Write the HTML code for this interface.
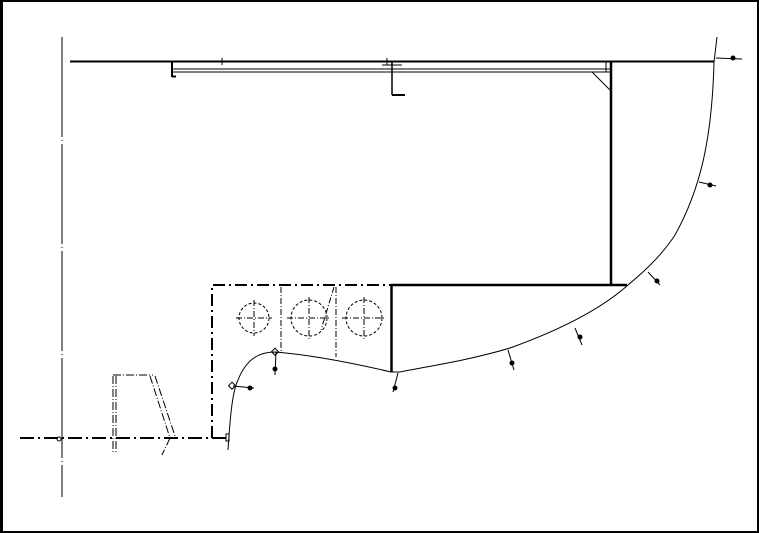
<!DOCTYPE html>
<html><head><meta charset="utf-8"><style>
html,body{margin:0;padding:0;background:#fff;}
svg{display:block;}
</style></head><body>
<svg width="759" height="533" viewBox="0 0 759 533" xmlns="http://www.w3.org/2000/svg">
<rect x="1" y="1" width="757" height="531" fill="none" stroke="#000" stroke-width="2"/>
<rect x="0" y="0" width="3" height="533" fill="#000"/>
<g fill="none" stroke="#000">
<!-- left vertical centerline -->
<line x1="62" y1="37" x2="62" y2="497" stroke-width="1" stroke-dasharray="100,3,1,3"/>
<!-- bottom dash-dot baseline -->
<line x1="20" y1="438" x2="228" y2="438" stroke-width="2" stroke-dasharray="14,4,2,4"/>
<!-- top horizontal -->
<line x1="70" y1="61.5" x2="714" y2="61.5" stroke-width="2"/>
<line x1="172" y1="69" x2="610" y2="69" stroke-width="1"/>
<line x1="172" y1="72" x2="610" y2="72" stroke-width="1"/>
<line x1="172" y1="62" x2="172" y2="77" stroke-width="2"/>
<line x1="172" y1="76.5" x2="176" y2="76.5" stroke-width="2"/>
<line x1="222" y1="58" x2="222" y2="65" stroke-width="1"/>
<line x1="387" y1="58" x2="387" y2="65" stroke-width="1"/>
<line x1="382" y1="65" x2="402" y2="65" stroke-width="1"/>
<line x1="392" y1="62" x2="392" y2="95" stroke-width="1.5"/>
<line x1="392" y1="95" x2="405" y2="95" stroke-width="2"/>
<line x1="606" y1="62" x2="606" y2="72" stroke-width="1"/>
<line x1="592" y1="72" x2="611" y2="91" stroke-width="1"/>
<!-- big vertical and horizontal -->
<line x1="611" y1="62" x2="611" y2="285" stroke-width="2.5"/>
<line x1="391" y1="285" x2="627" y2="285" stroke-width="2.5"/>
<line x1="391.5" y1="285" x2="391.5" y2="372" stroke-width="2.5"/>
<!-- hull curve -->
<path d="M717,37 L714,62 C712,140 700,190 675,235 C660,258 640,275 628,285 C600,310 560,330 510,348 C470,360 430,366 400,372" stroke-width="1"/>
<!-- lower left curve -->
<path d="M228,450 C230,420 232,392 238,380 C246,360 258,352 275,352 C300,354 340,360 391,372 L400,372" stroke-width="1"/>
<!-- dash-dot box -->
<path d="M212,438 L212,285 L391,285" stroke-width="2" stroke-dasharray="12,4,2,4"/>
<!-- circles -->
<g stroke-width="1" stroke-dasharray="3,2">
<circle cx="254" cy="318" r="15"/>
<circle cx="309" cy="318" r="18"/>
<circle cx="364" cy="318" r="18"/>
</g>
<g stroke-width="1" stroke-dasharray="6,2,1,2">
<line x1="236" y1="318" x2="272" y2="318"/><line x1="254" y1="300" x2="254" y2="336"/>
<line x1="287" y1="318" x2="331" y2="318"/><line x1="309" y1="297" x2="309" y2="339"/>
<line x1="342" y1="318" x2="386" y2="318"/><line x1="364" y1="297" x2="364" y2="339"/>
<line x1="281" y1="287" x2="281" y2="352"/>
<line x1="336" y1="287" x2="336" y2="357"/>
<line x1="334" y1="287" x2="321" y2="330"/>
</g>
<!-- small left frame -->
<g stroke-width="1" stroke-dasharray="8,2,1,2">
<line x1="113" y1="376" x2="113" y2="452"/>
<line x1="116" y1="376" x2="116" y2="452"/>
<line x1="113" y1="375" x2="153" y2="375"/>
<line x1="150" y1="376" x2="170" y2="438"/>
<line x1="155" y1="376" x2="175" y2="436"/>
<line x1="170" y1="438" x2="162" y2="455"/>
</g>
<!-- normals with dots -->
<g stroke-width="1">
<line x1="716" y1="58" x2="742" y2="59"/>
<line x1="699" y1="182" x2="716" y2="186"/>
<line x1="648" y1="272" x2="660" y2="285"/>
<line x1="575" y1="328" x2="582" y2="345"/>
<line x1="508" y1="350" x2="514" y2="370"/>
<line x1="398" y1="373" x2="393" y2="392"/>
<line x1="276" y1="352" x2="275" y2="375"/>
<line x1="233" y1="386" x2="254" y2="388"/>
</g>
</g>
<g fill="#000">
<circle cx="733" cy="58" r="2.5"/>
<circle cx="710" cy="185" r="2.5"/>
<circle cx="657" cy="281" r="2.5"/>
<circle cx="580" cy="337" r="2.5"/>
<circle cx="512" cy="363" r="2.5"/>
<circle cx="395" cy="388" r="2.5"/>
<circle cx="275" cy="369" r="2.5"/>
<circle cx="250" cy="388" r="2.5"/>
</g>
<g fill="none" stroke="#000" stroke-width="1">
<rect x="230" y="383" width="5" height="5" transform="rotate(45 232 385)"/>
<rect x="273" y="349" width="5" height="5" transform="rotate(45 275 351)"/>
<rect x="226" y="434" width="3" height="7"/>
<circle cx="59" cy="439" r="2"/>
</g>
</svg>
</body></html>
